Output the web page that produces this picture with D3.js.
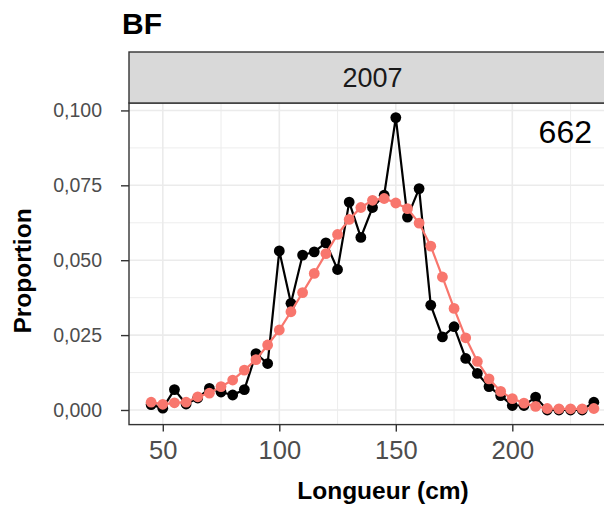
<!DOCTYPE html>
<html>
<head>
<meta charset="utf-8">
<script src="https://cdn.jsdelivr.net/npm/d3@7"></script>
<style>
  html, body { margin: 0; padding: 0; background: #fff; }
  svg { display: block; font-family: "Liberation Sans", Arial, sans-serif; }
</style>
</head>
<body>
<svg id="chart" width="604" height="506"></svg>
<script>
// Length classes (cm)
const lengths = [45, 50, 55, 60, 65, 70, 75, 80, 85, 90, 95, 100, 105, 110, 115, 120,
  125, 130, 135, 140, 145, 150, 155, 160, 165, 170, 175, 180, 185, 190, 195, 200,
  205, 210, 215, 220, 225, 230, 235];

// Observed proportion per length class
const observed = [0.0018, 0.0006, 0.0068, 0.0020, 0.0040, 0.0072, 0.0060, 0.0050,
  0.0068, 0.0188, 0.0155, 0.0531, 0.0356, 0.0517, 0.0528, 0.0558, 0.0469, 0.0694,
  0.0576, 0.0676, 0.0717, 0.0976, 0.0644, 0.0739, 0.0350, 0.0244, 0.0278, 0.0172,
  0.0122, 0.0078, 0.0048, 0.0015, 0.0015, 0.0043, 0.0000, 0.0000, 0.0000, 0.0000,
  0.0026];

// Fitted proportion per length class
const fitted = [0.0026, 0.0019, 0.0024, 0.0026, 0.0044, 0.0056, 0.0078, 0.0100,
  0.0133, 0.0168, 0.0217, 0.0267, 0.0328, 0.0392, 0.0456, 0.0522, 0.0586, 0.0636,
  0.0676, 0.0700, 0.0706, 0.0691, 0.0672, 0.0624, 0.0547, 0.0444, 0.0339, 0.0241,
  0.0162, 0.0104, 0.0062, 0.0038, 0.0023, 0.0012, 0.0005, 0.0004, 0.0004, 0.0004,
  0.0005];

const xTicks = [50, 100, 150, 200];
const xMinor = [75, 125, 175, 225];
const yTicks = [0, 0.025, 0.05, 0.075, 0.1];
const yMinor = [0.0125, 0.0375, 0.0625, 0.0875];

const title = "BF";
const stripLabel = "2007";
const countLabel = "662";
const xTitle = "Longueur (cm)";
const yTitle = "Proportion";

const svg = d3.select("#chart");

// Panel geometry
const panel = { left: 129, right: 616, top: 103, bottom: 424.6 };
const strip = { top: 52, bottom: 103 };

// Scales with 5% padding around the data range
const xExt = d3.extent(lengths);
const xPad = (xExt[1] - xExt[0]) * 0.05;
const x = d3.scaleLinear().domain([xExt[0] - xPad, xExt[1] + xPad])
  .range([panel.left, panel.right]);

const yMax = d3.max(observed.concat(fitted));
const yPad = yMax * 0.05;
const y = d3.scaleLinear().domain([-yPad, yMax + yPad])
  .range([panel.bottom, panel.top]);

const comma = d3.formatLocale({ decimal: ",", thousands: " ", grouping: [3], currency: ["", ""] });
const yFmt = comma.format(".3f");

// Title
svg.append("text")
  .attr("x", 122).attr("y", 34)
  .attr("font-size", 30).attr("font-weight", "bold").attr("fill", "#000")
  .text(title);

// Panel background
svg.append("rect")
  .attr("x", panel.left).attr("y", panel.top)
  .attr("width", panel.right - panel.left).attr("height", panel.bottom - panel.top)
  .attr("fill", "#fff");

const grid = svg.append("g");
// minor grid
grid.selectAll(".vmin").data(xMinor).join("line")
  .attr("x1", d => x(d)).attr("x2", d => x(d))
  .attr("y1", panel.top).attr("y2", panel.bottom)
  .attr("stroke", "#EBEBEB").attr("stroke-width", 0.9);
grid.selectAll(".hmin").data(yMinor).join("line")
  .attr("y1", d => y(d)).attr("y2", d => y(d))
  .attr("x1", panel.left).attr("x2", panel.right)
  .attr("stroke", "#EBEBEB").attr("stroke-width", 0.9);
// major grid
grid.selectAll(".vmaj").data(xTicks).join("line")
  .attr("x1", d => x(d)).attr("x2", d => x(d))
  .attr("y1", panel.top).attr("y2", panel.bottom)
  .attr("stroke", "#EBEBEB").attr("stroke-width", 1.6);
grid.selectAll(".hmaj").data(yTicks).join("line")
  .attr("y1", d => y(d)).attr("y2", d => y(d))
  .attr("x1", panel.left).attr("x2", panel.right)
  .attr("stroke", "#EBEBEB").attr("stroke-width", 1.6);

// Series
const line = d3.line().x(d => x(d[0])).y(d => y(d[1]));
const obsData = lengths.map((l, i) => [l, observed[i]]);
const fitData = lengths.map((l, i) => [l, fitted[i]]);

const marks = svg.append("g");
marks.append("path").datum(obsData)
  .attr("d", line).attr("fill", "none").attr("stroke", "#000").attr("stroke-width", 2.2);
marks.selectAll(".obs").data(obsData).join("circle")
  .attr("cx", d => x(d[0])).attr("cy", d => y(d[1])).attr("r", 5.4).attr("fill", "#000");

marks.append("path").datum(fitData)
  .attr("d", line).attr("fill", "none").attr("stroke", "#F8766D").attr("stroke-width", 2.2);
marks.selectAll(".fit").data(fitData).join("circle")
  .attr("cx", d => x(d[0])).attr("cy", d => y(d[1])).attr("r", 5.4).attr("fill", "#F8766D");

// Count label
svg.append("text")
  .attr("x", 592).attr("y", 143).attr("text-anchor", "end")
  .attr("font-size", 32).attr("fill", "#000")
  .text(countLabel);

// Panel border
svg.append("rect")
  .attr("x", panel.left).attr("y", panel.top)
  .attr("width", panel.right - panel.left).attr("height", panel.bottom - panel.top)
  .attr("fill", "none").attr("stroke", "#333").attr("stroke-width", 1.4);

// Strip
svg.append("rect")
  .attr("x", panel.left).attr("y", strip.top)
  .attr("width", panel.right - panel.left).attr("height", strip.bottom - strip.top)
  .attr("fill", "#D9D9D9").attr("stroke", "#333").attr("stroke-width", 1.4);
svg.append("text")
  .attr("x", (panel.left + panel.right) / 2).attr("y", (strip.top + strip.bottom) / 2)
  .attr("dy", "0.36em").attr("text-anchor", "middle")
  .attr("font-size", 27).attr("fill", "#1A1A1A")
  .text(stripLabel);

// X axis
const xAxis = d3.axisBottom(x).tickValues(xTicks).tickSize(7).tickPadding(9).tickFormat(d3.format("d"));
const gx = svg.append("g").attr("transform", `translate(0,${panel.bottom})`).call(xAxis);
gx.select(".domain").remove();
gx.selectAll(".tick line").attr("stroke", "#333").attr("stroke-width", 1.4);
gx.selectAll(".tick text").attr("font-size", 25.5).attr("fill", "#4D4D4D")
  .attr("font-family", "Liberation Sans, Arial, sans-serif");

// Y axis
const yAxis = d3.axisLeft(y).tickValues(yTicks).tickSize(8).tickPadding(19).tickFormat(yFmt);
const gy = svg.append("g").attr("transform", `translate(${panel.left},0)`).call(yAxis);
gy.select(".domain").remove();
gy.selectAll(".tick line").attr("stroke", "#333").attr("stroke-width", 1.4);
gy.selectAll(".tick text").attr("font-size", 19.5).attr("fill", "#4D4D4D")
  .attr("font-family", "Liberation Sans, Arial, sans-serif");

// Axis titles
svg.append("text")
  .attr("x", 383).attr("y", 499)
  .attr("text-anchor", "middle").attr("font-size", 24.5).attr("font-weight", "bold")
  .attr("fill", "#000")
  .text(xTitle);
svg.append("text")
  .attr("transform", "translate(31,271) rotate(-90)")
  .attr("text-anchor", "middle").attr("font-size", 24.5).attr("font-weight", "bold")
  .attr("fill", "#000")
  .text(yTitle);
</script>
</body>
</html>
